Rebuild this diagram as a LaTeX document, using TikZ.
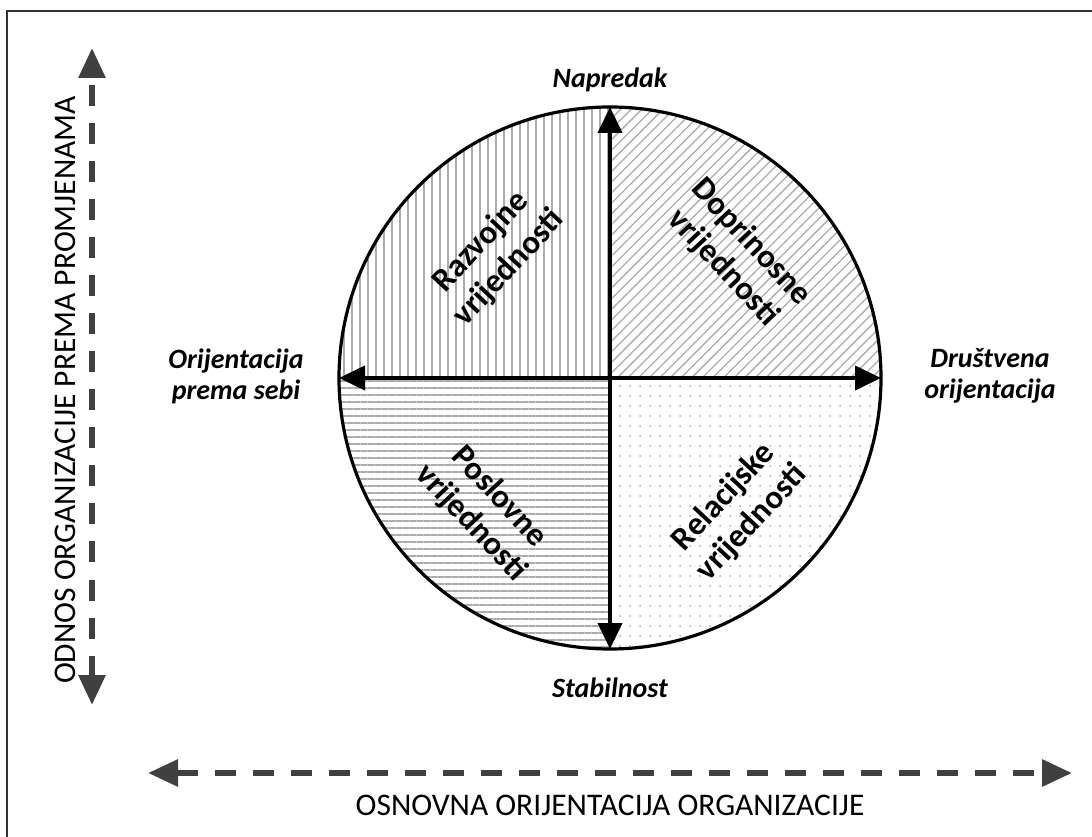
\documentclass[tikz,border=0pt]{standalone}
\usepackage{fontspec}
\setmainfont{Carlito}
\usetikzlibrary{arrows.meta,patterns.meta}
\definecolor{axisgray}{HTML}{404040}
\definecolor{hatchgray}{HTML}{ABABAB}
\tikzset{
  bigtext/.style={font=\fontsize{33}{38}\selectfont\bfseries, align=center},
  poletext/.style={font=\fontsize{28}{31}\selectfont\bfseries\itshape, align=center},
  axistext/.style={font=\fontsize{31.5}{34}\selectfont, text=black},
  mainarrow/.style={line width=4pt, {Triangle[length=26pt,width=24pt]}-{Triangle[length=26pt,width=24pt]}},
  dasharrow/.style={line width=6pt, axisgray, dash pattern=on 21pt off 17pt,
    {Triangle[length=30pt,width=26pt]}-{Triangle[length=30pt,width=26pt]}}
}
\begin{document}
\begin{tikzpicture}[x=1pt,y=1pt]
  \useasboundingbox (0,0) rectangle (1092,836);
  % Frame
  \draw[line width=1.6pt, black!80] (7,-20) rectangle (1120,825);
  % Circle and quadrants
  \coordinate (C) at (610,458);
  \def\rad{271}
  \fill[pattern={Lines[angle=90,distance=8pt,line width=1.3pt]}, pattern color=hatchgray]
    (C) -- ++(0,\rad) arc (90:180:\rad) -- cycle;
  \fill[pattern={Lines[angle=45,distance=7.5pt,line width=1.3pt]}, pattern color=hatchgray]
    (C) -- ++(\rad,0) arc (0:90:\rad) -- cycle;
  \fill[pattern={Lines[angle=0,distance=7pt,line width=1.1pt]}, pattern color=hatchgray]
    (C) -- ++(-\rad,0) arc (180:270:\rad) -- cycle;
  \fill[pattern={Dots[distance=10pt,radius=1pt]}, pattern color=hatchgray]
    (C) -- ++(0,-\rad) arc (270:360:\rad) -- cycle;
  \draw[line width=3.2pt] (C) circle (\rad);
  % Main axes
  \coordinate (top) at (610,729);
  \coordinate (bottom) at (610,187);
  \coordinate (left) at (339,458);
  \coordinate (right) at (881,458);
  \draw[mainarrow] (bottom) -- (top);
  \draw[mainarrow] (left) -- (right);
  % Pole labels
  \node[poletext] (napredak) at (610,756) {Napredak};
  \node[poletext] (stabilnost) at (610,148) {Stabilnost};
  \node[poletext] (sebi) at (236,460) {Orijentacija\\prema sebi};
  \node[poletext] (drustvena) at (990,460) {Društvena\\orijentacija};
  % Quadrant labels
  \node[bigtext, rotate=47] (razvojne) at (495,581) {Razvojne\\vrijednosti};
  \node[bigtext, rotate=-47] (doprinosne) at (737,581) {Doprinosne\\vrijednosti};
  \node[bigtext, rotate=-47] (poslovne) at (485,326) {Poslovne\\vrijednosti};
  \node[bigtext, rotate=47] (relacijske) at (738,326) {Relacijske\\vrijednosti};
  % Outer dashed axes
  \coordinate (vlow) at (92,131);
  \coordinate (vhigh) at (92,788);
  \coordinate (hleft) at (148,63);
  \coordinate (hright) at (1072,63);
  \draw[dasharrow] (vlow) -- (vhigh);
  \draw[dasharrow] (hleft) -- (hright);
  \node[axistext, rotate=90] (odnos) at (65,446) {ODNOS ORGANIZACIJE PREMA PROMJENAMA};
  \node[axistext] (osnovna) at (610,31) {OSNOVNA ORIJENTACIJA ORGANIZACIJE};
\end{tikzpicture}
\end{document}
